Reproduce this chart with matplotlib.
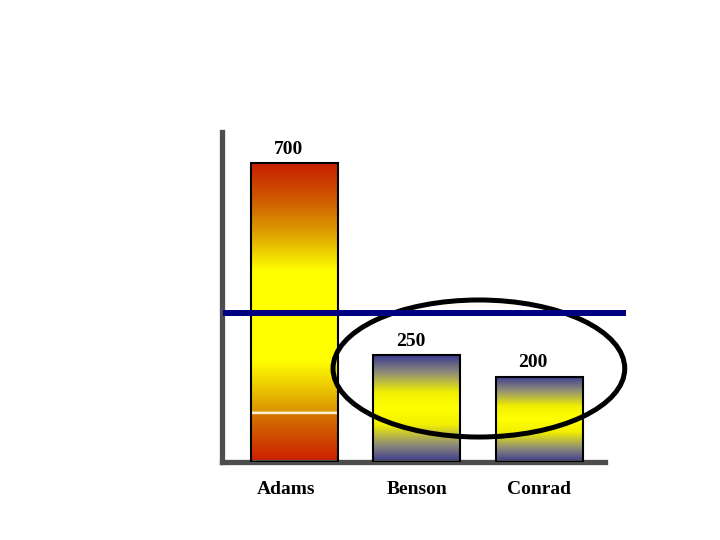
import numpy as np
import matplotlib
matplotlib.use("Agg")
import matplotlib.pyplot as plt
import matplotlib.transforms as mtransforms
from matplotlib.colors import LinearSegmentedColormap
from matplotlib.patches import Ellipse

names = ["Adams", "Benson", "Conrad"]
values = [700, 250, 200]
target = 350

# gradient fills, as in the old slide
warm = LinearSegmentedColormap.from_list("warm", [
    (0.0, "#CC1E00"), (0.157, "#D47400"), (0.16, "#FFF4D0"), (0.166, "#FFF4D0"),
    (0.169, "#DA9400"), (0.26, "#EED000"), (0.34, "#FFFF00"), (0.64, "#FFFF00"),
    (0.72, "#E8C400"), (0.78, "#DC9800"), (0.87, "#D06000"), (1.0, "#C81E00")])
cool = LinearSegmentedColormap.from_list("cool", [
    (0.0, "#3A3A92"), (0.16, "#8E8C78"), (0.35, "#F2F000"), (0.5, "#FFFF00"),
    (0.65, "#F2F000"), (0.84, "#8E8C78"), (1.0, "#3A3A92")])
fills = [warm, cool, cool]

fig = plt.figure(figsize=(7.2, 5.4), dpi=100)
ax = fig.add_axes([222/720, 1 - 462/540, 383/720, 330/540])

x = np.arange(len(names))
bars = ax.bar(x, values, width=0.71, facecolor="none", edgecolor="black",
              linewidth=1.5, zorder=3)
grad = np.linspace(0, 1, 600).reshape(-1, 1)
for b, cm in zip(bars, fills):
    bx, by, bw, bh = b.get_x(), b.get_y(), b.get_width(), b.get_height()
    im = ax.imshow(grad, cmap=cm, origin="lower", aspect="auto",
                   extent=[bx, bx + bw, by, by + bh], zorder=2)
    im.set_clip_path(b)

for xi, v in zip(x, values):
    ax.text(xi - 0.05, v + 12, str(v), ha="center", va="bottom",
            fontsize=14, fontweight="bold", family="Liberation Serif")

ax.set_xlim(-0.59, 2.535)
ax.set_ylim(0, 773)
ax.set_xticks(x)
ax.set_xticklabels(names, fontsize=14, fontweight="bold", family="Liberation Serif")
ax.tick_params(length=0, pad=14)
# Adams sits a little left of its bar in the original
shift = mtransforms.ScaledTranslation(-6/72, 0, fig.dpi_scale_trans)
lbl = ax.get_xticklabels()[0]
lbl.set_transform(lbl.get_transform() + shift)

for s in ["top", "right"]:
    ax.spines[s].set_visible(False)
for s in ["left", "bottom"]:
    ax.spines[s].set_color("#4D4D4D")
    ax.spines[s].set_linewidth(3.8)
ax.set_yticks([])

ell = Ellipse((1.506, 219), 2.38, 321, fill=False, edgecolor="black",
              linewidth=3.6, zorder=5, clip_on=False)
ax.add_patch(ell)
ax.axhline(target, xmin=0.01, xmax=1.047, color="#000080", linewidth=4.3,
           zorder=6, clip_on=False)

fig.savefig("out.png", dpi=100)
